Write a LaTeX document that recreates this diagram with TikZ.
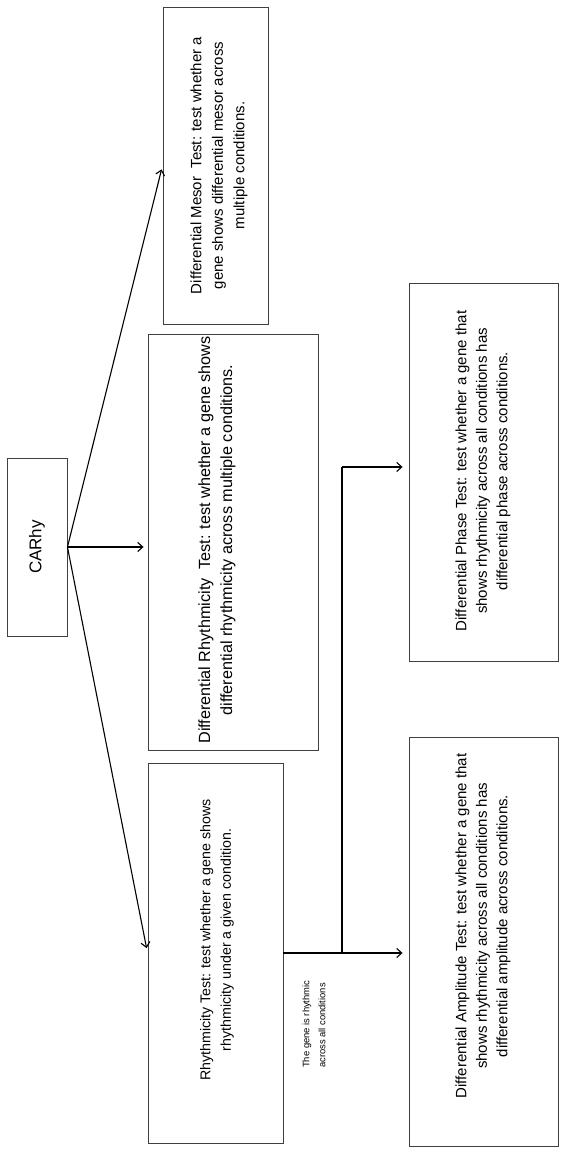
\documentclass[tikz,border=0pt]{standalone}
\usepackage{fontspec}
\setmainfont{Liberation Sans}
\usetikzlibrary{arrows.meta,calc}
\begin{document}
\begin{tikzpicture}[x=1pt,y=1pt,
  box/.style={draw=black!75,line width=0.9pt,rectangle,inner sep=0pt},
  txt/.style={rotate=90,align=center,inner sep=0pt,font=\fontsize{15}{20.5}\selectfont},
  arr/.style={line width=1.1pt,-{Straight Barb[length=5pt,width=9pt,line width=1.1pt]}},
  ln/.style={line width=1.1pt}]
\useasboundingbox (0,0) rectangle (565,1151);
\fill[white] (0,0) rectangle (565,1151);
% boxes
\node[box,minimum width=60,minimum height=178] (car) at (37,604) {};
\node[box,minimum width=170,minimum height=416] (drt) at (233,609) {};
\node[box,minimum width=135,minimum height=380] (rt) at (215.5,198) {};
\node[box,minimum width=105,minimum height=317] (mes) at (215.5,985.5) {};
\node[box,minimum width=149,minimum height=378] (ph) at (483.5,679) {};
\node[box,minimum width=149,minimum height=409] (amp) at (483.5,209.5) {};
% texts
\node[txt,font=\fontsize{17}{20}\selectfont] (cartxt) at (car.center) {CARhy};
\node[txt,font=\fontsize{16.2}{22}\selectfont] (drttxt) at (217,611) {Differential Rhythmicity\ \ Test: test whether a gene shows\\differential rhythmicity across multiple conditions.};
\node[txt,font=\fontsize{14.2}{20.5}\selectfont] (rttxt) at (217,211) {Rhythmicity Test: test whether a gene shows\\rhythmicity under a given condition.};
\node[txt,font=\fontsize{15}{21.5}\selectfont] (mestxt) at (219,985.5) {Differential Mesor\ \ Test: test whether a\\gene shows differential mesor across\\multiple conditions.};
\node[txt] (phtxt) at (483,680) {Differential Phase Test: test whether a gene that\\shows rhythmicity across all conditions has\\differential phase across conditions.};
\node[txt] (amptxt) at (483,225) {Differential Amplitude Test: test whether a gene that\\shows rhythmicity across all conditions has\\differential amplitude across conditions.};
\node[rotate=90,align=left,anchor=west,inner sep=0pt,font=\fontsize{9.4}{16}\selectfont] (lbl) at (314,83) {The gene is rhythmic\\across all conditions};
% connectors
\draw[arr,shorten >=4pt] (car.east) -- (mes.west);
\draw[arr,shorten >=4pt] (car.east) -- (car.east -| drt.west);
\draw[arr,shorten >=5pt] (car.east) -- (rt.west);
\coordinate (br) at (342,198);
\coordinate (brt) at (342,684);
\draw[arr,shorten >=6pt] (rt.east) -- (rt.east -| amp.west);
\draw[ln] (br) -- (brt);
\draw[arr,shorten >=6pt] (brt) -- (brt -| ph.west);
\end{tikzpicture}
\end{document}
